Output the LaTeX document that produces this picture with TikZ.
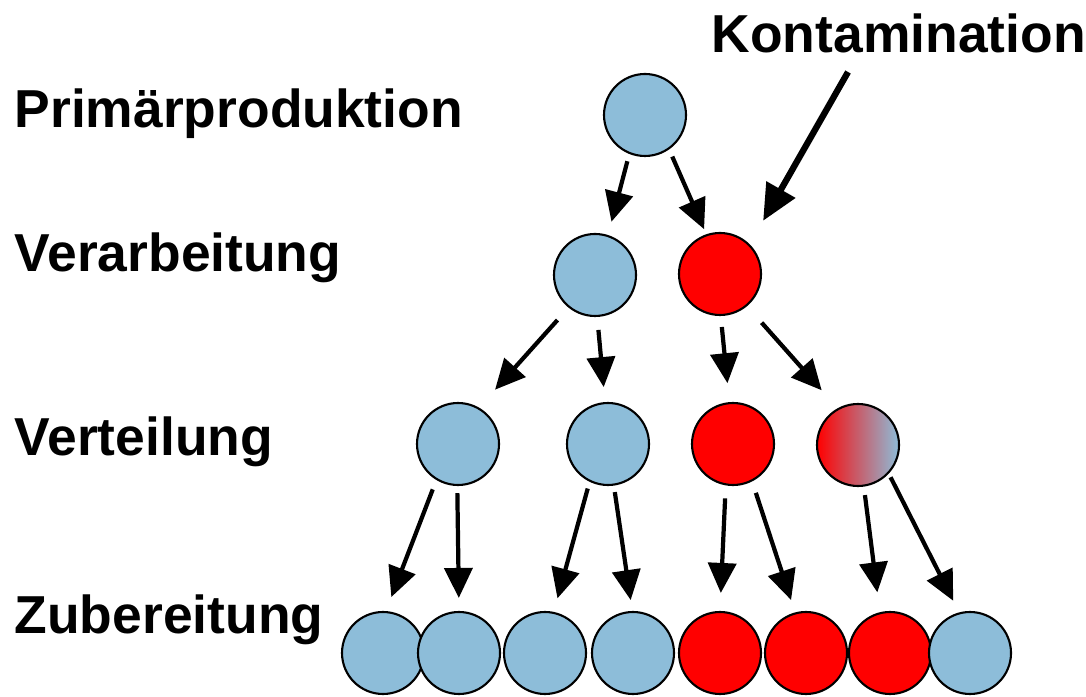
\documentclass[tikz,border=0pt]{standalone}
\usepackage{fontspec}
\setmainfont{Liberation Sans}
\usetikzlibrary{arrows.meta}
\definecolor{lblue}{RGB}{141,189,217}
\tikzset{
  ball/.style={circle,draw,line width=0.6pt,minimum size=0.82cm,inner sep=0pt},
  arr/.style={-{Triangle[length=0.3cm,width=0.28cm]},line width=1.2pt},
  lbl/.style={anchor=base west,inner sep=0pt,font=\fontsize{15.2}{18}\selectfont\bfseries},
  gaps/.style 2 args={shorten <=#1cm,shorten >=#2cm}
}
\begin{document}
\begin{tikzpicture}
\useasboundingbox (0,0) rectangle (10.86,6.96);
% stages
\node[lbl] (l1) at (0.14,5.68) {Primärproduktion};
\node[lbl] (l2) at (0.14,4.24) {Verarbeitung};
\node[lbl] (l3) at (0.14,2.40) {Verteilung};
\node[lbl] (l4) at (0.14,0.62) {Zubereitung};
\node[lbl] (kont) at (7.11,6.43) {Kontamination};
\coordinate (ks) at (8.48,6.24);
% circles
\node[ball,fill=lblue] (t) at (6.45,5.81) {};
\node[ball,fill=lblue] (v1) at (5.95,4.21) {};
\node[ball,fill=red] (v2) at (7.20,4.22) {};
\node[ball,fill=lblue] (d1) at (4.58,2.52) {};
\node[ball,fill=lblue] (d2) at (6.08,2.52) {};
\node[ball,fill=red] (d3) at (7.33,2.52) {};
\node[ball,left color=red,right color=lblue] (d4) at (8.58,2.51) {};
\foreach \x/\c [count=\i] in {3.83/lblue,4.59/lblue,5.45/lblue,6.33/lblue,7.20/red,8.06/red,8.90/red,9.70/lblue}
	\node[ball,fill=\c] (z\i) at (\x,0.43) {};
% arrows
\draw[arr,gaps={0.075}{0.137}] (t.-112) -- (v1.72);
\draw[arr,gaps={0.078}{0.055}] (t.-55) -- (v2.109);
\draw[-{Triangle[length=0.36cm,width=0.32cm]},line width=1.8pt,shorten >=0.27cm] (ks) -- (v2.45);
\draw[arr,gaps={0.166}{0.24}] (v1.-129) -- (d1.60);
\draw[arr,gaps={0.13}{0.15}] (v1.-87) -- (d2.94);
\draw[arr,gaps={0.11}{0.19}] (v2.-89) -- (d3.95);
\draw[arr,gaps={0.22}{0.24}] (v2.-50) -- (d4.119);
\draw[arr,gaps={0.10}{0.15}] (d1.-121) -- (z1.86);
\draw[arr,gaps={0.07}{0.13}] (d1.-91) -- (z2.90);
\draw[arr,gaps={0.07}{0.14}] (d2.-116) -- (z3.78);
\draw[arr,gaps={0.065}{0.11}] (d2.-82) -- (z4.91);
\draw[arr,gaps={0.13}{0.18}] (d3.-100) -- (z5.90);
\draw[arr,gaps={0.12}{0.13}] (d3.-63) -- (z6.105);
\draw[arr,gaps={0.085}{0.20}] (d4.-82) -- (z7.104);
\draw[arr,gaps={0.04}{0.13}] (d4.-43) -- (z8.105);
\end{tikzpicture}
\end{document}
